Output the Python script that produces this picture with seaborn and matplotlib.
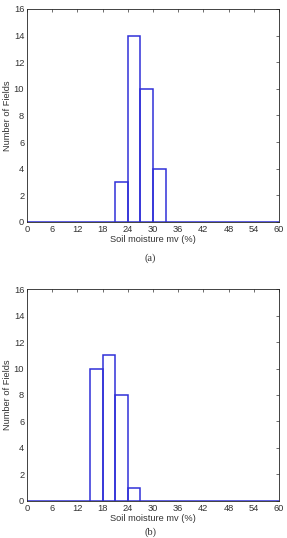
import numpy as np
import pandas as pd
import seaborn as sb
import matplotlib
matplotlib.use("Agg")
import matplotlib.pyplot as plt

# bins of 3 % soil moisture, counts
bin_edges = list(range(0, 61, 3))
centers_a = [22.5, 25.5, 28.5, 31.5]
counts_a = [3, 14, 10, 4]
centers_b = [16.5, 19.5, 22.5, 25.5]
counts_b = [10, 11, 8, 1]
xticks = list(range(0, 61, 6))
yticks = list(range(0, 17, 2))


def fullCounts(centers, counts):
    # every bin, empty ones with zero so they are drawn as a flat line
    mids = [e + 1.5 for e in bin_edges[:-1]]
    d = dict(zip(centers, counts))
    return pd.DataFrame({"mv": mids, "n": [d.get(m, 0) for m in mids]})


sb.set_style("white")
plt.rcParams["font.family"] = ["Liberation Sans", "DejaVu Sans"]

fig = plt.figure(figsize=(2.87, 5.38), dpi=100)
panels = [
    (fullCounts(centers_a, counts_a), [0.094, 0.5874, 0.878, 0.3959], "(a)", 0.511),
    (fullCounts(centers_b, counts_b), [0.094, 0.0688, 0.878, 0.394], "(b)", 0.002),
]

for df, rect, caption, cy in panels:
    ax = fig.add_axes(rect)
    sb.histplot(data=df, x="mv", weights="n", bins=bin_edges, ax=ax,
                fill=False, element="bars", color="#3030d8", linewidth=1.1)
    ax.set_xlim(0, 60)
    ax.set_ylim(0, 16)
    ax.set_xticks(xticks)
    ax.set_yticks(yticks)
    ax.tick_params(direction="in", length=2.5, width=0.5, labelsize=6.7,
                   top=True, right=True, pad=2, colors="#333333")
    for s in ax.spines.values():
        s.set_linewidth(0.6)
        s.set_color("#222222")
    ax.set_xlabel("Soil moisture mv (%)", fontsize=6.7, labelpad=1, color="#333333")
    ax.set_ylabel("Number of Fields", fontsize=6.7, labelpad=1.5, color="#333333")
    fig.text(0.525, cy, caption, ha="center", va="bottom", fontsize=7.5,
             family=["Liberation Serif", "DejaVu Serif"], color="#333333")

fig.savefig("out.png", dpi=100)
